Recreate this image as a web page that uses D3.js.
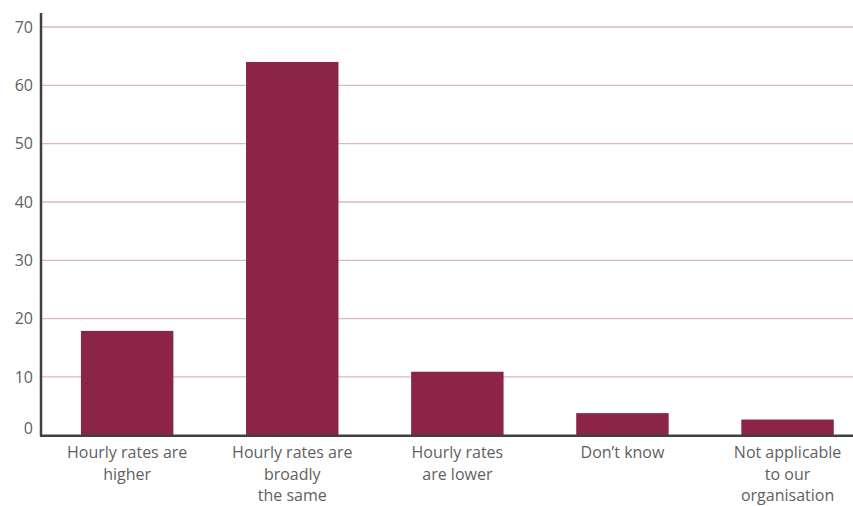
<!DOCTYPE html>
<html><head><meta charset="utf-8">
<script src="https://cdn.jsdelivr.net/npm/d3@7"></script>
<style>body{margin:0;background:#fff}svg{display:block}</style>
</head><body>
<svg id="c" width="853" height="506"></svg>
<script>
const categories = ["Hourly rates are higher","Hourly rates are broadly the same","Hourly rates are lower","Don’t know","Not applicable to our organisation"];
const categoryLines = [["Hourly rates are","higher"],["Hourly rates are","broadly","the same"],["Hourly rates","are lower"],["Don’t know"],["Not applicable","to our","organisation"]];
const values = [17.9, 64, 10.9, 3.8, 2.7];
const yTicks = [0,10,20,30,40,50,60,70];

const svg = d3.select("#c");
const y = d3.scaleLinear().domain([0,70]).range([435.3,27]);
const x = d3.scaleBand().domain(categories).range([44.6,870.1]).paddingInner(0.44).paddingOuter(0.22);
const font = "'Open Sans', 'Noto Sans', sans-serif";

// gridlines
svg.append("g").selectAll("line").data(yTicks.filter(d=>d>0)).join("line")
  .attr("x1",41).attr("x2",853)
  .attr("y1",d=>y(d)).attr("y2",d=>y(d))
  .attr("stroke","#dcb8c4").attr("stroke-width",1.3);

// y labels
svg.append("g").selectAll("text").data(yTicks).join("text")
  .attr("x",33).attr("y",d=>y(d) + (d===0?-7:0))
  .attr("dy","0.35em").attr("text-anchor","end")
  .attr("font-family",font).attr("font-size",16).attr("fill","#5f5f5f")
  .text(d=>d);

// bars
svg.append("g").selectAll("rect").data(values).join("rect")
  .attr("x",(d,i)=>x(categories[i])).attr("width",x.bandwidth())
  .attr("y",d=>y(d)).attr("height",d=>y(0)-y(d))
  .attr("fill","#8c2448");

// axes lines
svg.append("line").attr("x1",41).attr("x2",41).attr("y1",13).attr("y2",436.5)
  .attr("stroke","#404040").attr("stroke-width",2.5);
svg.append("line").attr("x1",40).attr("x2",853).attr("y1",435.8).attr("y2",435.8)
  .attr("stroke","#404040").attr("stroke-width",2.5);

// x labels
const xl = svg.append("g").selectAll("text").data(categories).join("text")
  .attr("text-anchor","middle")
  .attr("font-family",font).attr("font-size",16).attr("fill","#5f5f5f")
  .attr("transform",d=>`translate(${x(d)+x.bandwidth()/2},458)`);
xl.each(function(d,i){
  d3.select(this).selectAll("tspan").data(categoryLines[i]).join("tspan")
    .attr("x",0).attr("dy",(t,j)=>j===0?0:21.5).text(t=>t);
});
</script>
</body></html>
